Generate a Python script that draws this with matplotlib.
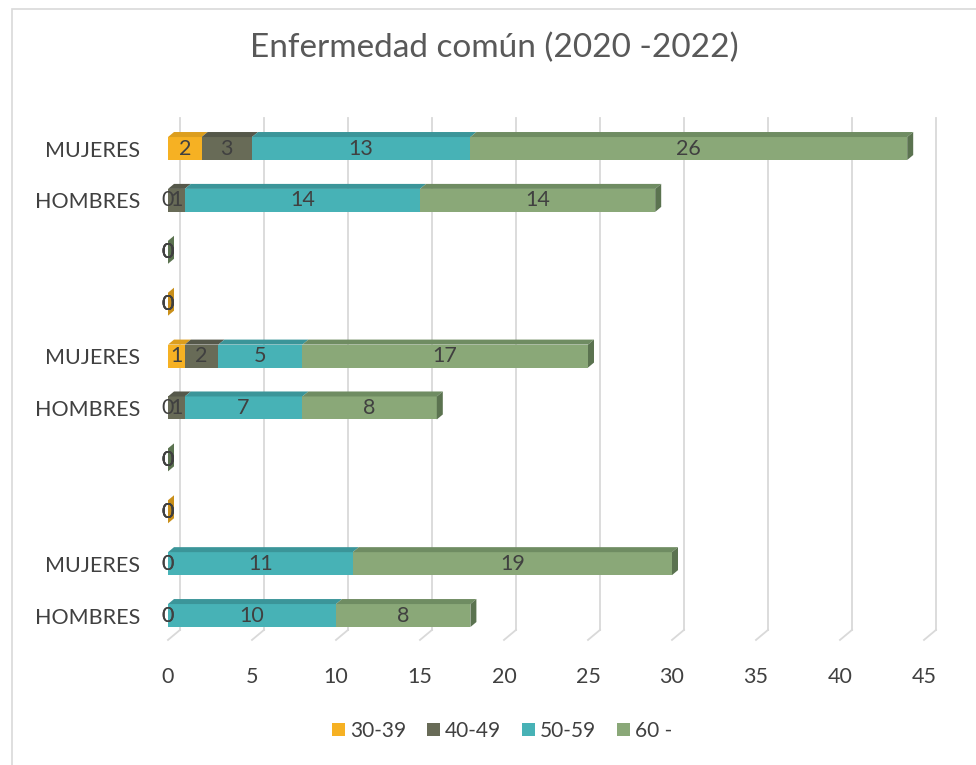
import matplotlib
matplotlib.use('Agg')
import matplotlib.pyplot as plt
from matplotlib.patches import Polygon, Rectangle

plt.rcParams['font.family'] = ['Lato', 'DejaVu Sans']

# ---- data ----
categories = ['MUJERES', 'HOMBRES', '', '', 'MUJERES', 'HOMBRES', '', '', 'MUJERES', 'HOMBRES']
series_names = ['30-39', '40-49', '50-59', '60 -']
s30_39 = [2, 0, 0, 0, 1, 0, 0, 0, 0, 0]
s40_49 = [3, 1, 0, 0, 2, 1, 0, 0, 0, 0]
s50_59 = [13, 14, 0, 0, 5, 7, 0, 0, 11, 10]
s60 = [26, 14, 0, 0, 17, 8, 0, 0, 19, 8]
xticks = list(range(0, 50, 5))
title = 'Enfermedad común (2020 -2022)'

# ---- style ----
front_cols = ['#F6B123', '#686B57', '#47B2B6', '#8AA878']
top_cols = ['#DC9E1E', '#55584A', '#3B9599', '#6F8C62']
side_cols = ['#C98F1A', '#4E5143', '#34878A', '#5B7350']
text_col = '#404040'

W, H = 976, 765
fig = plt.figure(figsize=(W / 100, H / 100), dpi=100)
px_unit = 16.8
row_px = 51.9
ax = fig.add_axes([168 / W, 1 - 642 / H, 45 * px_unit / W, (642 - 118) / H])
ax.set_xlim(0, 45)
ax.set_ylim(9.51, -0.588)
for s in ax.spines.values():
    s.set_visible(False)

# gridlines on back wall with floor feet
gdx = 12 / px_unit
g_bot = (630 - 148.5) / row_px
g_foot = 10 / row_px
for t in xticks:
    ax.plot([t + gdx, t + gdx], [-0.588, g_bot], color='#D9D9D9', lw=1.3, zorder=0, clip_on=False)
    ax.plot([t + gdx, t], [g_bot, g_bot + g_foot], color='#D9D9D9', lw=1.3, zorder=0, clip_on=False)

series = [s30_39, s40_49, s50_59, s60]
ys = list(range(len(categories)))
bh = 0.443
dx = 6 / px_unit
dy = 5 / row_px

lefts = [0] * len(categories)
containers = []
for i, vals in enumerate(series):
    c = ax.barh(ys, vals, left=lefts, height=bh, color=front_cols[i], label=series_names[i], zorder=3)
    containers.append(c)
    for y, v, l in zip(ys, vals, lefts):
        if v > 0:
            top = y - bh / 2
            poly = Polygon([(l, top), (l + v, top), (l + v + dx, top - dy), (l + dx, top - dy)],
                           closed=True, facecolor=top_cols[i], edgecolor='none', zorder=3)
            ax.add_patch(poly)
    lefts = [l + v for l, v in zip(lefts, vals)]

# right side faces
for y in ys:
    total = sum(s[y] for s in series)
    last = max([i for i in range(4) if series[i][y] > 0], default=None)
    top = y - bh / 2
    bot = y + bh / 2
    if last is None:
        col = side_cols[3] if y % 4 == 2 else side_cols[0]
    else:
        col = side_cols[last]
    poly = Polygon([(total, bot), (total, top), (total + dx, top - dy), (total + dx, bot - dy)],
                   closed=True, facecolor=col, edgecolor='none', zorder=3)
    ax.add_patch(poly)

# data labels
for i, c in enumerate(containers):
    vals = series[i]
    ax.bar_label(c, labels=[str(v) for v in vals], label_type='center',
                 fontsize=15.5, color=text_col, zorder=5)

ax.set_yticks(ys)
ax.set_yticklabels(categories, fontsize=15.5, color=text_col)
ax.set_xticks(xticks)
ax.set_xticklabels([str(t) for t in xticks], fontsize=15.5, color=text_col)
ax.tick_params(axis='y', length=0, pad=20)
ax.tick_params(axis='x', length=0, pad=18)

fig.text(494 / W, 1 - 48 / H, title, ha='center', va='center', fontsize=24, color='#595959')

leg = fig.legend(handles=containers, labels=series_names, loc='center', bbox_to_anchor=(502 / W, 1 - 731 / H),
                 ncol=4, frameon=False, fontsize=15, handlelength=0.62, handleheight=0.62,
                 handletextpad=0.25, columnspacing=1.0, labelcolor=text_col)

fig.add_artist(Rectangle((12 / W, -0.02), 1.0, 1 - 9 / H + 0.02, fill=False,
                         edgecolor='#D9D9D9', lw=1.2, transform=fig.transFigure))

fig.savefig('out.png', dpi=100)
